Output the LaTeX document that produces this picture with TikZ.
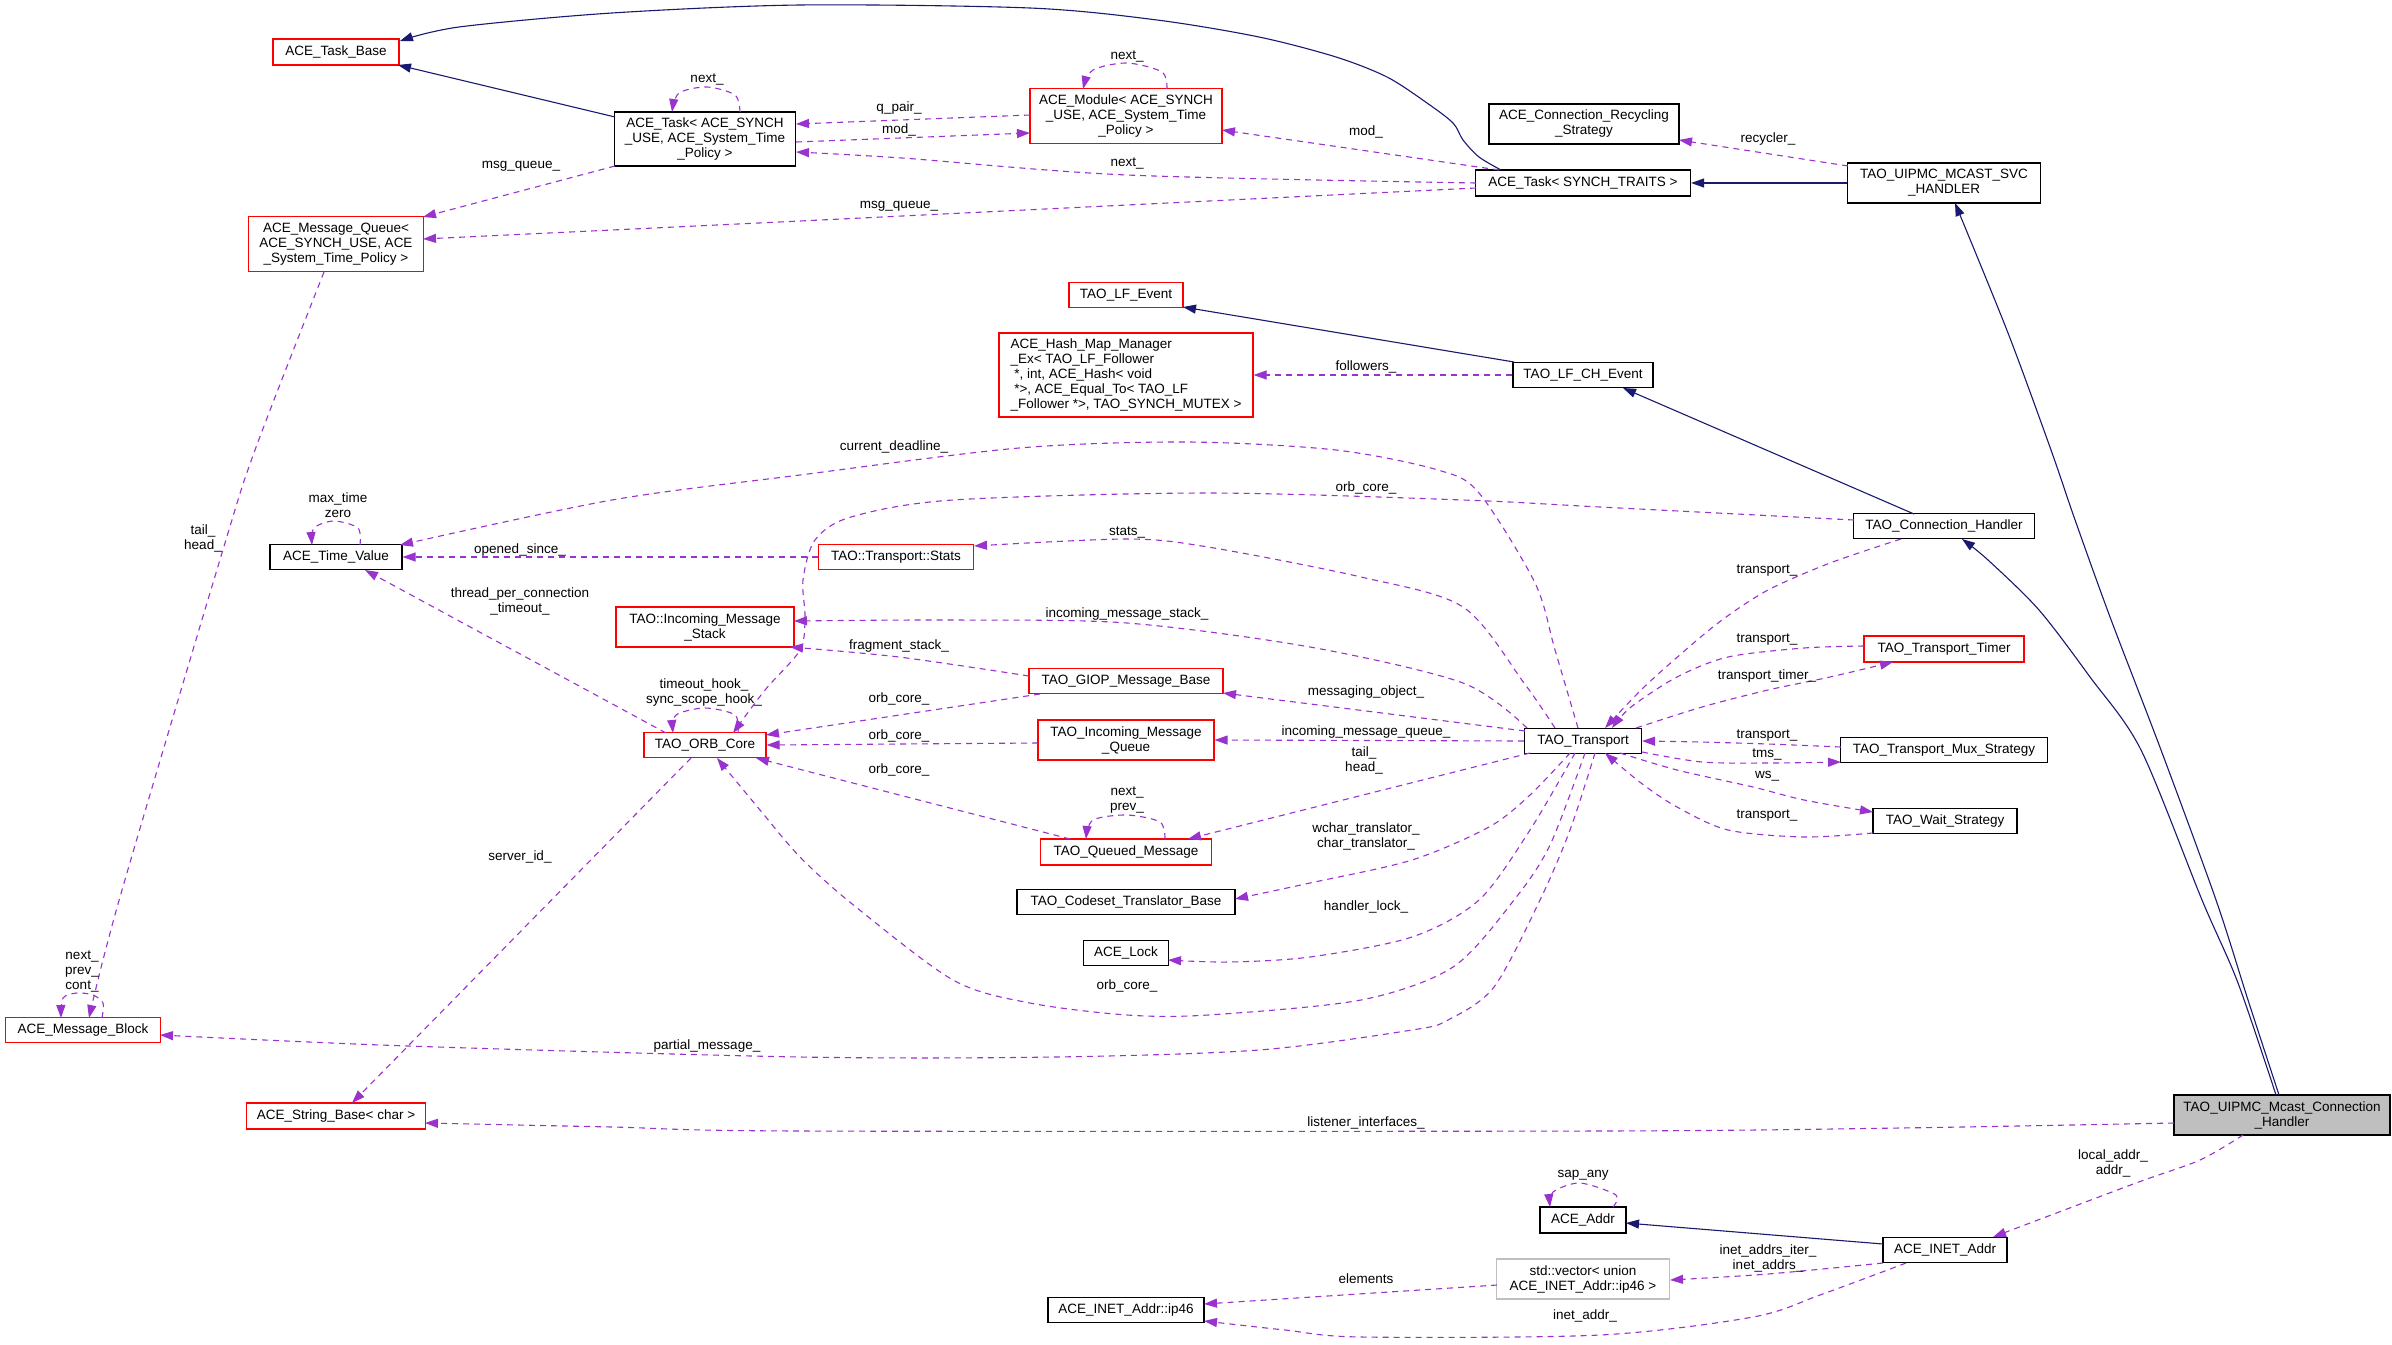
\documentclass[tikz,border=0pt]{standalone}
\usepackage{fontspec}
\setmainfont{Liberation Sans}
\usetikzlibrary{arrows.meta,calc}
\definecolor{edgeblue}{RGB}{25,25,112}
\definecolor{edgepurple}{RGB}{154,50,205}
\definecolor{nodegray}{RGB}{191,191,191}
\newcommand\dxfont{\fontsize{13.5}{15}\selectfont}
\tikzset{
  cls/.style={draw=black, fill=white, line width=1.1pt, inner sep=0pt, align=center, font=\dxfont},
  redcls/.style={cls, draw=red},
  inh/.style={draw=edgeblue, line width=1.1pt, -{Triangle[length=13pt,width=9pt]}},
  use/.style={draw=edgepurple, line width=1.1pt, dash pattern=on 6pt off 5pt, -{Triangle[length=13pt,width=9pt]}},
  lbl/.style={font=\dxfont, inner sep=0pt, align=center}
}
\begin{document}
\begin{tikzpicture}[x=1pt,y=-1pt]
\path[use as bounding box, fill=white] (0,0) rectangle (2392,1344);
% nodes
\node[redcls, minimum width=126, minimum height=26] (taskbase) at (336,52) {ACE\_Task\_Base};
\node[cls, minimum width=181, minimum height=54] (acetask) at (705,139) {ACE\_Task< ACE\_SYNCH\\\_USE, ACE\_System\_Time\\\_Policy >};
\node[redcls, minimum width=175, minimum height=55] (msgq) at (336,244) {ACE\_Message\_Queue<\\ACE\_SYNCH\_USE, ACE\\\_System\_Time\_Policy >};
\node[redcls, minimum width=192, minimum height=55] (module) at (1126,116) {ACE\_Module< ACE\_SYNCH\\\_USE, ACE\_System\_Time\\\_Policy >};
\node[cls, minimum width=190, minimum height=40] (recyc) at (1584,124) {ACE\_Connection\_Recycling\\\_Strategy};
\node[cls, minimum width=215, minimum height=26] (tasktraits) at (1583,183) {ACE\_Task< SYNCH\_TRAITS >};
\node[cls, minimum width=193, minimum height=40] (svc) at (1944,183) {TAO\_UIPMC\_MCAST\_SVC\\\_HANDLER};
\node[redcls, minimum width=114, minimum height=25] (lfevent) at (1126,295) {TAO\_LF\_Event};
\node[redcls, minimum width=254, minimum height=84, align=left] (hashmap) at (1126,375) {ACE\_Hash\_Map\_Manager\\\_Ex< TAO\_LF\_Follower\\{}\ *, int, ACE\_Hash< void\\{}\ *>, ACE\_Equal\_To< TAO\_LF\\\_Follower *>, TAO\_SYNCH\_MUTEX >};
\node[cls, minimum width=140, minimum height=25] (lfch) at (1583,375) {TAO\_LF\_CH\_Event};
\node[cls, minimum width=132, minimum height=25] (timevalue) at (336,557) {ACE\_Time\_Value};
\node[redcls, minimum width=155, minimum height=25] (stats) at (896,557) {TAO::Transport::Stats};
\node[cls, minimum width=181, minimum height=25] (connh) at (1944,526) {TAO\_Connection\_Handler};
\node[redcls, minimum width=178, minimum height=40] (imstack) at (705,627) {TAO::Incoming\_Message\\\_Stack};
\node[redcls, minimum width=122, minimum height=25] (orbcore) at (705,745) {TAO\_ORB\_Core};
\node[redcls, minimum width=194, minimum height=25] (giop) at (1126,681) {TAO\_GIOP\_Message\_Base};
\node[redcls, minimum width=176, minimum height=40] (imqueue) at (1126,740) {TAO\_Incoming\_Message\\\_Queue};
\node[redcls, minimum width=171, minimum height=26] (queued) at (1126,852) {TAO\_Queued\_Message};
\node[cls, minimum width=117, minimum height=25] (transport) at (1583,741) {TAO\_Transport};
\node[redcls, minimum width=160, minimum height=26] (timer) at (1944,649) {TAO\_Transport\_Timer};
\node[cls, minimum width=207, minimum height=25] (mux) at (1944,750) {TAO\_Transport\_Mux\_Strategy};
\node[cls, minimum width=144, minimum height=25] (wait) at (1945,821) {TAO\_Wait\_Strategy};
\node[cls, minimum width=218, minimum height=25] (codeset) at (1126,902) {TAO\_Codeset\_Translator\_Base};
\node[cls, minimum width=85, minimum height=25] (lock) at (1126,953) {ACE\_Lock};
\node[redcls, minimum width=155, minimum height=25] (msgblock) at (83,1030) {ACE\_Message\_Block};
\node[redcls, minimum width=179, minimum height=26] (strbase) at (336,1116) {ACE\_String\_Base< char >};
\node[cls, fill=nodegray, minimum width=216, minimum height=40] (mcast) at (2282,1115) {TAO\_UIPMC\_Mcast\_Connection\\\_Handler};
\node[cls, minimum width=86, minimum height=26] (addr) at (1583,1220) {ACE\_Addr};
\node[cls, minimum width=124, minimum height=25] (inetaddr) at (1945,1250) {ACE\_INET\_Addr};
\node[cls, draw=nodegray, minimum width=173, minimum height=40] (vector) at (1583,1279) {std::vector< union\\ACE\_INET\_Addr::ip46 >};
\node[cls, minimum width=156, minimum height=25] (ip46) at (1126,1310) {ACE\_INET\_Addr::ip46};
% inheritance edges
\draw[inh] ($(acetask.center)+(-90,-22)$) -- ($(taskbase.center)+(62,13)$);
\draw[inh] plot[smooth] coordinates {($(tasktraits.center)+(-82,-13)$) (1479,157) (1463,140) (1453,123) (1427,103) (1387,77) (1336,57) (1259,37) (1157,20) (1030,8) (800,5) (612,13) (459,27) ($(taskbase.center)+(64,-11)$)};
\draw[inh] (svc.west) -- (tasktraits.east);
\draw[inh] ($(lfch.center)+(-69,-13)$) -- ($(lfevent.center)+(57,12)$);
\draw[inh] ($(connh.center)+(-30,-12)$) -- ($(lfch.center)+(40,13)$);
\draw[inh] plot[smooth] coordinates {($(mcast.center)+(-6,-20)$) (2238,983) (2202,900) (2141,750) (2090,677) (2039,610) (1988,560) ($(connh.center)+(18,13)$)};
\draw[inh] plot[smooth] coordinates {($(mcast.center)+(-3,-20)$) (2248,1000) (2216,900) (2161,750) (2110,617) (2074,517) (2051,450) (2008,333) ($(svc.center)+(11,20)$)};
\draw[inh] ($(inetaddr.center)+(-62,-6)$) -- ($(addr.center)+(43,3)$);
% usage edges
\draw[use] plot[smooth] coordinates {($(acetask.center)+(35,-27)$) (735,95) (707,87) (679,93) ($(acetask.center)+(-33,-27)$)};
\draw[use] ($(acetask.center)+(-90,27)$) -- ($(msgq.center)+(87,-27)$);
\draw[use] ($(module.center)+(-96,-1)$) -- ($(acetask.center)+(91,-15)$);
\draw[use] ($(acetask.center)+(91,3)$) -- ($(module.center)+(-96,17)$);
\draw[use] ($(tasktraits.center)+(-84,-13)$) -- ($(module.center)+(96,14)$);
\draw[use] plot[smooth] coordinates {($(tasktraits.center)+(-107,0)$) (1127,175) (902,158) ($(acetask.center)+(91,13)$)};
\draw[use] plot[smooth] coordinates {($(tasktraits.center)+(-107,5)$) (1127,205) (800,221) (612,230) ($(msgq.center)+(87,-5)$)};
\draw[use] plot[smooth] coordinates {($(module.center)+(41,-27)$) (1162,72) (1127,63) (1093,70) ($(module.center)+(-43,-27)$)};
\draw[use] ($(svc.center)+(-96,-17)$) -- ($(recyc.center)+(95,16)$);
\draw[use] (lfch.west) -- (hashmap.east);
\draw[use] plot[smooth] coordinates {($(msgq.center)+(-12,28)$) (255,450) (222,553) (120,897) ($(msgblock.center)+(6,-12)$)};
\draw[use] plot[smooth] coordinates {($(msgblock.center)+(19,-12)$) (103,1003) (93,995) (77,993) (63,998) ($(msgblock.center)+(-22,-12)$)};
\draw[use] plot[smooth] coordinates {($(timevalue.center)+(24,-12)$) (358,528) (334,521) (314,528) ($(timevalue.center)+(-24,-12)$)};
\draw[use] plot[smooth] coordinates {($(transport.center)+(-5,-13)$) (1555,650) (1535,583) (1479,493) (1438,470) (1336,450) (1188,442) (1019,448) (800,475) (612,500) ($(timevalue.center)+(64,-12)$)};
\draw[use] (stats.west) -- (timevalue.east);
\draw[use] plot[smooth] coordinates {($(connh.center)+(-90,-6)$) (1600,507) (1463,500) (1208,493) (953,500) (851,517) (815,540) (803,580) (805,617) (800,650) (765,690) ($(orbcore.center)+(28,-12)$)};
\draw[use] plot[smooth] coordinates {($(transport.center)+(-28,-13)$) (1524,683) (1463,607) (1361,577) (1208,547) (1127,539) ($(stats.center)+(78,-11)$)};
\draw[use] plot[smooth] coordinates {($(transport.center)+(-56,-13)$) (1463,683) (1310,647) (1127,623) (953,620) ($(imstack.center)+(89,-6)$)};
\draw[use] plot[smooth] coordinates {($(giop.center)+(-97,-5)$) (899,657) ($(imstack.center)+(85,20)$)};
\draw[use] ($(giop.center)+(-86,13)$) -- ($(orbcore.center)+(61,-10)$);
\draw[use] ($(transport.center)+(-58,-10)$) -- ($(giop.center)+(97,12)$);
\draw[use] ($(imqueue.center)+(-88,3)$) -- (orbcore.east);
\draw[use] (transport.west) -- (imqueue.east);
\draw[use] ($(queued.center)+(-56,-13)$) -- ($(orbcore.center)+(51,13)$);
\draw[use] ($(transport.center)+(-53,12)$) -- ($(queued.center)+(62,-13)$);
\draw[use] plot[smooth] coordinates {($(queued.center)+(39,-13)$) (1160,822) (1127,815) (1093,820) ($(queued.center)+(-40,-13)$)};
\draw[use] plot[smooth] coordinates {($(transport.center)+(-13,12)$) (1530,795) (1489,827) (1412,860) (1310,883) ($(codeset.center)+(109,-3)$)};
\draw[use] plot[smooth] coordinates {($(transport.center)+(-8,12)$) (1530,830) (1479,900) (1412,937) (1310,957) (1229,962) ($(lock.center)+(42,7)$)};
\draw[use] plot[smooth] coordinates {($(transport.center)+(2,12)$) (1550,845) (1514,900) (1453,967) (1361,1000) (1208,1015) (1127,1015) (1030,1003) (953,980) (851,903) (800,857) (760,810) ($(orbcore.center)+(12,13)$)};
\draw[use] plot[smooth] coordinates {($(transport.center)+(12,12)$) (1570,830) (1540,900) (1494,987) (1448,1020) (1412,1030) (1259,1050) (1055,1057) (800,1057) (408,1046) ($(msgblock.center)+(77,5)$)};
\draw[use] ($(orbcore.center)+(-14,13)$) -- ($(strbase.center)+(16,-13)$);
\draw[use] plot[smooth] coordinates {($(mcast.center)+(-108,8)$) (1900,1128) (1600,1131) (800,1131) (612,1127) ($(strbase.center)+(89,7)$)};
\draw[use] plot[smooth] coordinates {($(mcast.center)+(-39,20)$) (2200,1160) (2136,1183) ($(inetaddr.center)+(48,-13)$)};
\draw[use] plot[smooth] coordinates {($(addr.center)+(30,-13)$) (1616,1195) (1580,1183) (1553,1192) ($(addr.center)+(-33,-13)$)};
\draw[use] plot[smooth] coordinates {($(inetaddr.center)+(-62,13)$) (1768,1274) ($(vector.center)+(87,1)$)};
\draw[use] ($(vector.center)+(-86,6)$) -- ($(ip46.center)+(78,-6)$);
\draw[use] plot[smooth] coordinates {($(inetaddr.center)+(-39,13)$) (1820,1295) (1753,1317) (1600,1335) (1361,1337) (1285,1330) ($(ip46.center)+(78,11)$)};
\draw[use] plot[smooth] coordinates {($(connh.center)+(-43,13)$) (1830,563) (1768,590) (1722,620) (1682,653) (1641,690) ($(transport.center)+(22,-13)$)};
\draw[use] plot[smooth] coordinates {($(timer.center)+(-80,-3)$) (1804,648) (1728,657) (1677,677) (1631,707) ($(transport.center)+(29,-13)$)};
\draw[use] plot[smooth] coordinates {($(transport.center)+(53,-13)$) (1702,707) (1768,690) (1830,677) ($(timer.center)+(-51,13)$)};
\draw[use] plot[smooth] coordinates {($(mux.center)+(-103,-3)$) (1768,744) (1700,742) (transport.east)};
\draw[use] plot[smooth] coordinates {($(transport.center)+(59,11)$) (1702,762) (1768,763) ($(mux.center)+(-103,12)$)};
\draw[use] plot[smooth] coordinates {($(transport.center)+(37,12)$) (1677,770) (1753,787) (1804,800) ($(wait.center)+(-72,-9)$)};
\draw[use] plot[smooth] coordinates {($(wait.center)+(-72,12)$) (1804,837) (1728,830) (1677,807) (1641,783) ($(transport.center)+(22,12)$)};
\draw[use] ($(orbcore.center)+(-39,-12)$) -- ($(timevalue.center)+(29,13)$);
\draw[use] plot[smooth] coordinates {($(orbcore.center)+(33,-12)$) (735,715) (705,708) (676,715) ($(orbcore.center)+(-32,-12)$)};
% labels
\node[lbl] (la1) at (707,79) {next\_};
\node[lbl] (la2) at (521,166) {msg\_queue\_};
\node[lbl] (la3) at (1127,56) {next\_};
\node[lbl] (la4) at (899,108) {q\_pair\_};
\node[lbl] (la5) at (899,130) {mod\_};
\node[lbl] (la6) at (1366,132) {mod\_};
\node[lbl] (la7) at (1127,163) {next\_};
\node[lbl] (la8) at (899,206) {msg\_queue\_};
\node[lbl] (la9) at (1768,139) {recycler\_};
\node[lbl] (la10) at (1366,367) {followers\_};
\node[lbl] (la11) at (894,447) {current\_deadline\_};
\node[lbl] (la12) at (338,505) {max\_time\\zero};
\node[lbl] (la13) at (203,538) {tail\_\\head\_};
\node[lbl] (la14) at (520,550) {opened\_since\_};
\node[lbl] (la15) at (520,601) {thread\_per\_connection\\\_timeout\_};
\node[lbl] (la16) at (704,692) {timeout\_hook\_\\sync\_scope\_hook\_};
\node[lbl] (la17) at (520,857) {server\_id\_};
\node[lbl] (la18) at (1127,532) {stats\_};
\node[lbl] (la19) at (1366,488) {orb\_core\_};
\node[lbl] (la20) at (1127,614) {incoming\_message\_stack\_};
\node[lbl] (la21) at (899,646) {fragment\_stack\_};
\node[lbl] (la22) at (1366,692) {messaging\_object\_};
\node[lbl] (la23) at (899,699) {orb\_core\_};
\node[lbl] (la24) at (899,736) {orb\_core\_};
\node[lbl] (la25) at (899,770) {orb\_core\_};
\node[lbl] (la26) at (1366,732) {incoming\_message\_queue\_};
\node[lbl] (la27) at (1364,760) {tail\_\\head\_};
\node[lbl] (la28) at (1127,800) {next\_\\prev\_};
\node[lbl] (la29) at (1366,836) {wchar\_translator\_\\char\_translator\_};
\node[lbl] (la30) at (1767,571) {transport\_};
\node[lbl] (la31) at (1767,640) {transport\_};
\node[lbl] (la32) at (1767,676) {transport\_timer\_};
\node[lbl] (la33) at (1767,736) {transport\_};
\node[lbl] (la34) at (1767,754) {tms\_};
\node[lbl] (la35) at (1767,776) {ws\_};
\node[lbl] (la36) at (1767,816) {transport\_};
\node[lbl] (la37) at (82,971) {next\_\\prev\_\\cont\_};
\node[lbl] (la38) at (707,1046) {partial\_message\_};
\node[lbl] (la39) at (1366,907) {handler\_lock\_};
\node[lbl] (la40) at (1127,986) {orb\_core\_};
\node[lbl] (la41) at (1366,1123) {listener\_interfaces\_};
\node[lbl] (la42) at (1366,1279) {elements};
\node[lbl] (la43) at (1583,1175) {sap\_any};
\node[lbl] (la44) at (1585,1316) {inet\_addr\_};
\node[lbl] (la45) at (2113,1163) {local\_addr\_\\addr\_};
\node[lbl] (la46) at (1768,1258) {inet\_addrs\_iter\_\\inet\_addrs\_};
\end{tikzpicture}
\end{document}
